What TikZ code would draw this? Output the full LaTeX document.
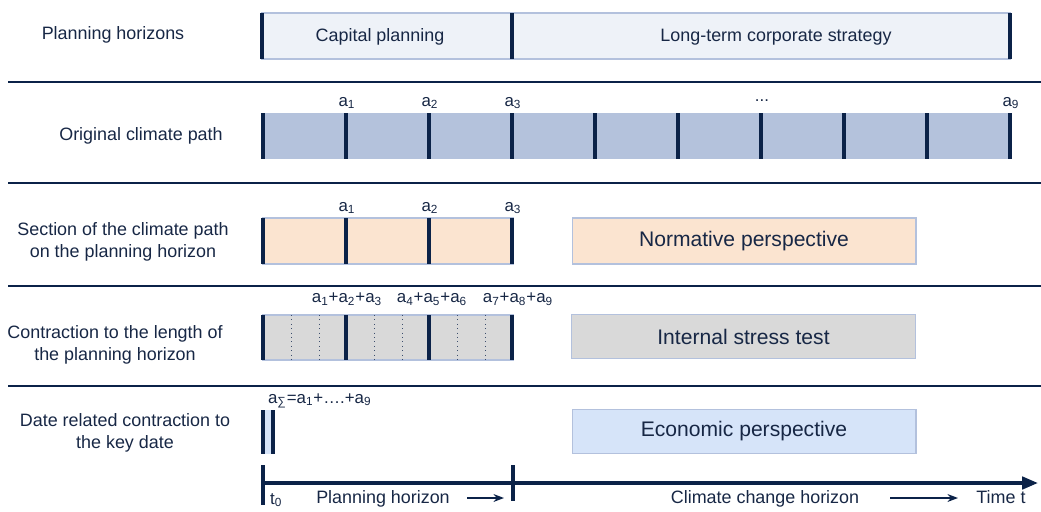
\documentclass[tikz,border=0pt]{standalone}
\usepackage{fontspec}
\setmainfont{Liberation Sans}
\usetikzlibrary{arrows.meta, positioning}
\definecolor{CNavy}{HTML}{0B2248}
\definecolor{CText}{HTML}{172745}
\definecolor{CEdge}{HTML}{B3C1DD}
\definecolor{CPlan}{HTML}{EEF2F8}
\definecolor{CPath}{HTML}{B4C2DC}
\definecolor{CPeach}{HTML}{FBE4D0}
\definecolor{CGray}{HTML}{D9D9D9}
\definecolor{CEcon}{HTML}{D6E4F9}

\tikzset{
    bar/.style={line width=1.8pt, CNavy},
    sep/.style={line width=1.2pt, CNavy},
    rowlabel/.style={align=center, text=CText, font=\fontsize{10.2}{12.5}\selectfont},
    idx/.style={text=CText, inner sep=1pt, font=\fontsize{9.6}{10}\selectfont},
    perspbox/.style={draw=CEdge, line width=0.6pt, minimum width=6.88cm, minimum height=0.88cm,
        text=CText, font=\fontsize{12}{14}\selectfont},
}

\begin{document}
\begin{tikzpicture}[x=0.02cm, y=-0.02cm]
    \useasboundingbox (0,0) rectangle (1041,511);

    % Row labels
    \node[rowlabel] (lhor) at (113,35) {Planning horizons};
    \node[rowlabel] (lpath) at (141,136) {Original climate path};
    \node[rowlabel] (lsect) at (123,242) {Section of the climate path\\on the planning horizon};
    \node[rowlabel] (lcont) at (115,345) {Contraction to the length of\\the planning horizon};
    \node[rowlabel] (ldate) at (125,433) {Date related contraction to\\the key date};

    % Separators
    \foreach \y in {82,183,286,386}
        \draw[sep] (8,\y) -- (1041,\y);

    % Planning horizons
    \fill[CPlan] (262,13) rectangle (1010,59);
    \draw[CEdge, line width=0.6pt] (262,13) rectangle (1010,59);
    \foreach \x in {262,512,1010}
        \draw[bar] (\x,13) -- (\x,59);
    \node[rowlabel] (capital) at (380,37) {Capital planning};
    \node[rowlabel] (longterm) at (776,37) {Long-term corporate strategy};

    % Original climate path
    \fill[CPath] (263,113) rectangle (1010,159);
    \foreach \x in {263,346,...,1010}
        \draw[bar] (\x,113) -- (\x,159);
    \node[idx] (p1) at (347,103) {a\textsubscript{1}};
    \node[idx] (p2) at (430,103) {a\textsubscript{2}};
    \node[idx] (p3) at (513,103) {a\textsubscript{3}};
    \node[idx] (pdots) at (762,101) {...};
    \node[idx] (p9) at (1011,103) {a\textsubscript{9}};

    % Section on the planning horizon
    \fill[CPeach] (263,218) rectangle (513,264);
    \draw[CEdge, line width=0.6pt] (263,218) rectangle (513,264);
    \foreach \x in {263,346,429,512}
        \draw[bar] (\x,218) -- (\x,264);
    \node[idx] (s1) at (347,208) {a\textsubscript{1}};
    \node[idx] (s2) at (430,208) {a\textsubscript{2}};
    \node[idx] (s3) at (513,208) {a\textsubscript{3}};
    \node[perspbox, fill=CPeach, minimum height=0.92cm] (normative) at (744,241) {Normative perspective};

    % Contraction to the planning horizon
    \fill[CGray] (263,315) rectangle (513,360);
    \draw[CEdge, line width=0.6pt] (263,315) rectangle (513,360);
    \foreach \x in {291,319,374,402,457,485}
        \draw[CNavy!80, line width=0.5pt, dotted] (\x,315) -- (\x,360);
    \foreach \x in {263,346,429,512}
        \draw[bar] (\x,315) -- (\x,360);
    \node[idx] (c1) at (347,299) {a\textsubscript{1}+a\textsubscript{2}+a\textsubscript{3}};
    \node[idx] (c2) at (432,299) {a\textsubscript{4}+a\textsubscript{5}+a\textsubscript{6}};
    \node[idx] (c3) at (518,299) {a\textsubscript{7}+a\textsubscript{8}+a\textsubscript{9}};
    \node[perspbox, fill=CGray] (stress) at (743.5,336.5) {Internal stress test};

    % Key date
    \fill[CEcon] (263,410) rectangle (273,454);
    \draw[bar] (263,410) -- (263,454);
    \draw[bar] (273,410) -- (273,454);
    \node[idx, anchor=west] (sum) at (266,401) {a\textsubscript{∑}=a\textsubscript{1}+….+a\textsubscript{9}};
    \node[perspbox, fill=CEcon] (economic) at (744,431.5) {Economic perspective};

    % Time axis
    \coordinate (t0) at (263,483);
    \coordinate (tend) at (1038,483);
    \draw[line width=2pt, CNavy, -{Triangle[length=9pt, width=7pt]}] (t0) -- (tend);
    \draw[bar] (263,465) -- (263,505);
    \draw[bar] (513,465) -- (513,501);
    \node[idx, anchor=base west] (t0lab) at (268,504) {t\textsubscript{0}};
    \node[rowlabel, anchor=base] (planhor) at (383,503) {Planning horizon};
    \node[rowlabel, anchor=base] (climhor) at (765,503) {Climate change horizon};
    \node[rowlabel, anchor=base] (timet) at (1001,503) {Time t};
    \coordinate (pa) at (467,498);
    \coordinate (pb) at (504,498);
    \coordinate (ca) at (890,498);
    \coordinate (cb) at (958,498);
    \draw[CNavy, line width=0.8pt, -{Stealth[length=6pt, width=4.5pt]}] (pa) -- (pb);
    \draw[CNavy, line width=0.8pt, -{Stealth[length=6pt, width=4.5pt]}] (ca) -- (cb);
\end{tikzpicture}
\end{document}
